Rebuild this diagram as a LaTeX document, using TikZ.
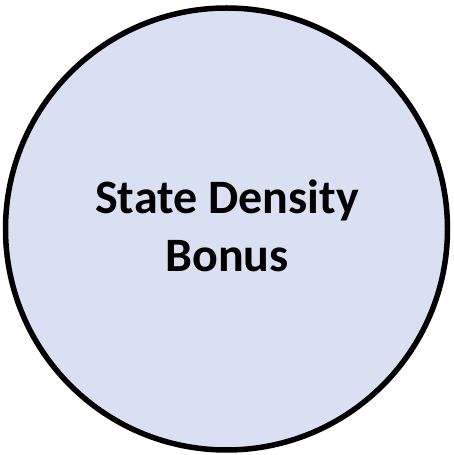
\documentclass[tikz,border=0pt]{standalone}
\usepackage{fontspec}
\setmainfont{Carlito}
\definecolor{circfill}{HTML}{D8E0F1}
\tikzset{bubble/.style={circle, draw=black, line width=5.5pt, fill=circfill, minimum size=442pt, inner sep=0pt},
 label/.style={font=\bfseries\fontsize{48}{58}\selectfont, align=center}}
\begin{document}
\begin{tikzpicture}[x=1pt,y=1pt]
\useasboundingbox (0,0) rectangle (453,455);
\node[bubble] (c) at (226.5,226) {};
\node[label] (t) at (227,229) {State Density\\Bonus};
\end{tikzpicture}
\end{document}
